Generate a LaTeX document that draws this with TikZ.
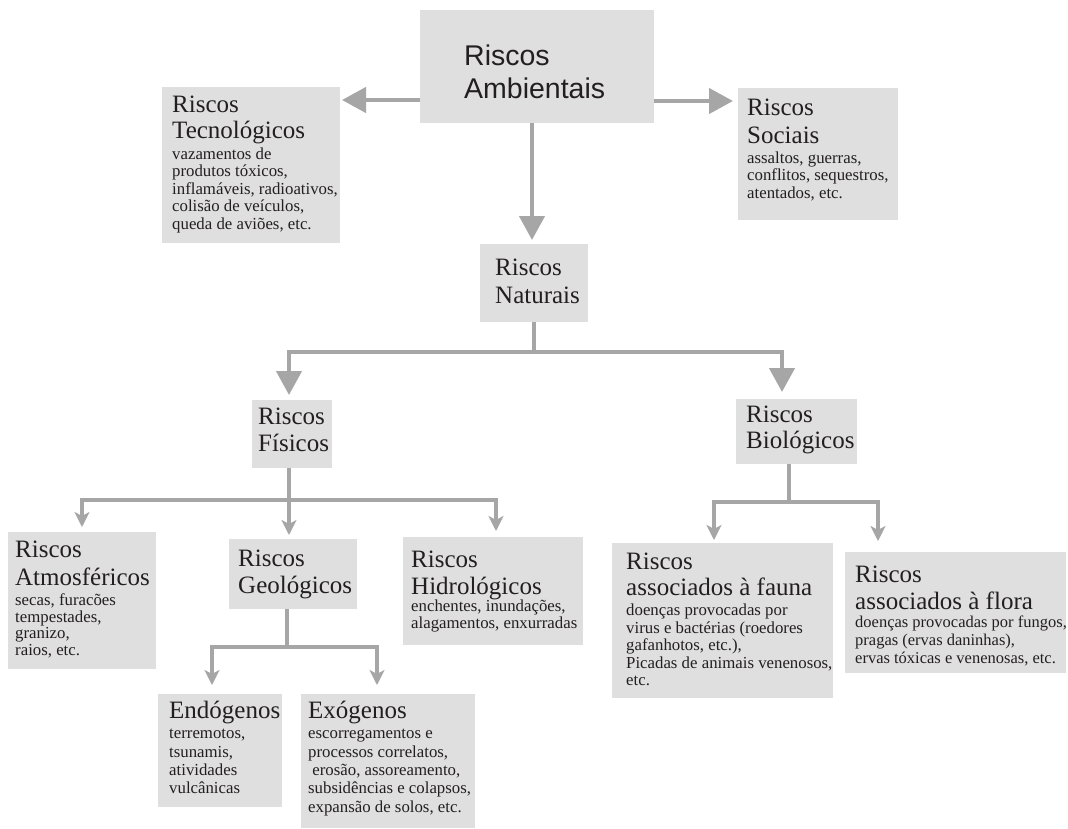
\documentclass[tikz,border=0pt]{standalone}
\usepackage{fontspec}
\setmainfont{Liberation Serif}
\newfontfamily\arialf{Liberation Sans}
\usetikzlibrary{arrows.meta}
\definecolor{boxgray}{HTML}{DFDFDF}
\definecolor{linegray}{HTML}{A6A6A6}
\definecolor{txtc}{HTML}{231F20}
\newcommand\ttl[2][27pt]{\baselineskip=#1\hbox{\fontsize{25}{27}\selectfont #2}}
\newcommand\bdy[2][18pt]{\baselineskip=#1\hbox{\fontsize{16.8}{18}\selectfont #2}}
\newcommand\bdf[2][18pt]{\baselineskip=#1\hbox{\fontsize{16.5}{18}\selectfont #2}}
\newcommand\snl[2][33pt]{\baselineskip=#1\hbox{\arialf\fontsize{28.5}{33}\selectfont #2}}
\newcommand\blk[1]{\vtop{\lineskiplimit=-100pt\lineskip=0pt #1}}
\tikzset{
  box/.style={fill=boxgray, inner sep=0pt, outer sep=0pt, anchor=north west},
  txt/.style={anchor=base west, inner sep=0pt, text=txtc},
  bigline/.style={draw=linegray, line width=4.3pt},
  bigarrow/.style={draw=linegray, line width=4.3pt, -{Triangle[length=24pt,width=25pt]}},
  smallline/.style={draw=linegray, line width=4pt},
  smallarrow/.style={draw=linegray, line width=4pt, -{Stealth[length=15pt,width=15pt,inset=4pt]}}
}
\begin{document}
\begin{tikzpicture}[x=1pt,y=-1pt]
\fill[white] (0,0) rectangle (1068,828);
\useasboundingbox (0,0) rectangle (1068,828);

% boxes
\node[box, minimum width=234pt, minimum height=113pt] (amb) at (420,10) {};
\node[box, minimum width=178pt, minimum height=156pt] (tec) at (162,87) {};
\node[box, minimum width=160pt, minimum height=132pt] (soc) at (738,88) {};
\node[box, minimum width=108pt, minimum height=78pt] (nat) at (480,244) {};
\node[box, minimum width=80pt, minimum height=68pt] (fis) at (252,400) {};
\node[box, minimum width=121pt, minimum height=65pt] (bio) at (736,399) {};
\node[box, minimum width=148pt, minimum height=137pt] (atm) at (8,532) {};
\node[box, minimum width=128pt, minimum height=70pt] (geo) at (229,539) {};
\node[box, minimum width=180pt, minimum height=108pt] (hid) at (403,537) {};
\node[box, minimum width=124pt, minimum height=113pt] (endo) at (158,694) {};
\node[box, minimum width=174pt, minimum height=134pt] (exo) at (301,694) {};
\node[box, minimum width=221pt, minimum height=155pt] (fau) at (612,543) {};
\node[box, minimum width=221pt, minimum height=121pt] (flo) at (845,552) {};

% texts
\node[txt] (ambT) at (464,65) {\blk{\snl{Riscos}\snl{Ambientais}}};
\node[txt] (tecT) at (172,112) {\blk{\ttl{Riscos}\ttl[26pt]{Tecnológicos}\bdy[21pt]{vazamentos de}\bdy[17.5pt]{produtos tóxicos,}\bdy[17.5pt]{inflamáveis, radioativos,}\bdy[17.5pt]{colisão de veículos,}\bdy[17.5pt]{queda de aviões, etc.}}};
\node[txt] (socT) at (747,115) {\blk{\ttl{Riscos}\ttl[28pt]{Sociais}\bdy[20pt]{assaltos, guerras,}\bdy[17.5pt]{conflitos, sequestros,}\bdy[18pt]{atentados, etc.}}};
\node[txt] (natT) at (495,275) {\blk{\ttl{Riscos}\ttl[28pt]{Naturais}}};
\node[txt] (fisT) at (258,424) {\blk{\ttl{Riscos}\ttl{Físicos}}};
\node[txt] (bioT) at (746,422) {\blk{\ttl{Riscos}\ttl[26pt]{Biológicos}}};
\node[txt] (atmT) at (15,557) {\blk{\ttl{Riscos}\ttl[28pt]{Atmosféricos}\bdy[20pt]{secas, furacões}\bdy[17pt]{tempestades,}\bdy[16.5pt]{granizo,}\bdy[17pt]{raios, etc.}}};
\node[txt] (geoT) at (238,566) {\blk{\ttl{Riscos}\ttl{Geológicos}}};
\node[txt] (hidT) at (411,567) {\blk{\ttl{Riscos}\ttl{Hidrológicos}\bdy[17.5pt]{enchentes, inundações,}\bdy[17pt]{alagamentos, enxurradas}}};
\node[txt] (endoT) at (169,718) {\blk{\ttl{Endógenos}\bdy[20pt]{terremotos,}\bdy[19pt]{tsunamis,}\bdy[18pt]{atividades}\bdy[18pt]{vulcânicas}}};
\node[txt] (exoT) at (308,718) {\blk{\ttl{Exógenos}\bdy[20pt]{escorregamentos e}\bdy[19pt]{processos correlatos,}\bdy[18pt]{\ erosão, assoreamento,}\bdy[18pt]{subsidências e colapsos,}\bdy[19pt]{expansão de solos, etc.}}};
\node[txt] (fauT) at (626,569) {\blk{\ttl{Riscos}\ttl[26pt]{associados à fauna}\bdy[20pt]{doenças provocadas por}\bdy[18pt]{virus e bactérias (roedores}\bdy[17pt]{gafanhotos, etc.),}\bdy[18pt]{Picadas de animais venenosos,}\bdy[17pt]{etc.}}};
\node[txt] (floT) at (855,582) {\blk{\ttl{Riscos}\ttl[27pt]{associados à flora}\bdf[18.5pt]{doenças provocadas por fungos,}\bdf[18pt]{pragas (ervas daninhas),}\bdf[18pt]{ervas tóxicas e venenosas, etc.}}};

% connectors: Riscos Ambientais
\draw[bigarrow] ([yshift=23pt]amb.south west) -- ([xshift=2pt,yshift=-13pt]tec.north east);
\draw[bigarrow] ([yshift=22pt]amb.south east) -- ([xshift=-5pt,yshift=-13pt]soc.north west);
\draw[bigarrow] ([xshift=-5pt]amb.south) -- ([xshift=-2pt,yshift=4pt]nat.north);

% Riscos Naturais
\draw[bigline] (nat.south) -- ([yshift=-30pt]nat.south);
\draw[bigarrow] ([yshift=-30pt]nat.south) -| ([xshift=-3pt,yshift=5pt]fis.north);
\draw[bigarrow] ([yshift=-30pt]nat.south) -| ([xshift=-14.5pt,yshift=7pt]bio.north);

% Riscos Fisicos
\draw[smallline] ([xshift=-3pt]fis.south) -- ([xshift=-3pt,yshift=-32pt]fis.south);
\draw[smallarrow] ([xshift=-3pt,yshift=-32pt]fis.south) -| ([yshift=5pt]atm.north);
\draw[smallarrow] ([xshift=-3pt,yshift=-32pt]fis.south) -- ([xshift=-4pt,yshift=4pt]geo.north);
\draw[smallarrow] ([xshift=-3pt,yshift=-32pt]fis.south) -| ([xshift=3pt,yshift=6pt]hid.north);

% Riscos Geologicos
\draw[smallline] ([xshift=-6pt]geo.south) -- ([xshift=-6pt,yshift=-38pt]geo.south);
\draw[smallarrow] ([xshift=-6pt,yshift=-38pt]geo.south) -| ([xshift=-8pt,yshift=9pt]endo.north);
\draw[smallarrow] ([xshift=-6pt,yshift=-38pt]geo.south) -| ([xshift=-11pt,yshift=9pt]exo.north);

% Riscos Biologicos
\draw[smallline] ([xshift=-7.5pt]bio.south) -- ([xshift=-7.5pt,yshift=-38pt]bio.south);
\draw[smallarrow] ([xshift=-7.5pt,yshift=-38pt]bio.south) -| ([xshift=-8.5pt,yshift=3pt]fau.north);
\draw[smallarrow] ([xshift=-7.5pt,yshift=-38pt]bio.south) -| ([xshift=33pt,yshift=11pt]flo.north west);
\end{tikzpicture}
\end{document}
